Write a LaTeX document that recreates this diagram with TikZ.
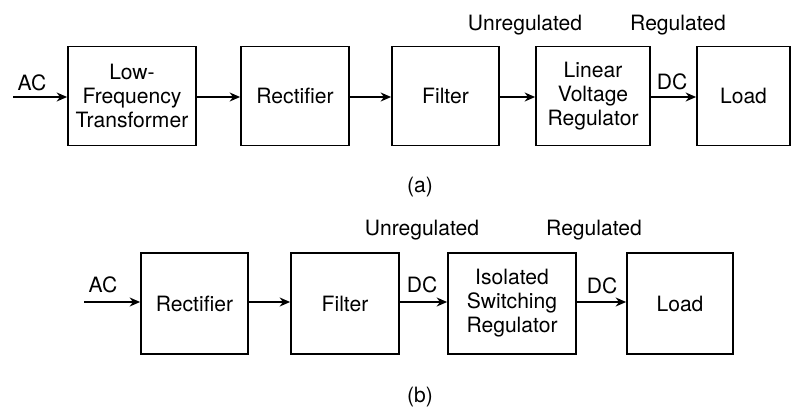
\documentclass[tikz,border=0pt]{standalone}
\usepackage{fontspec}
\setmainfont{TeX Gyre Heros}
\usetikzlibrary{arrows.meta}
\tikzset{
	blk/.style={draw, line width=1pt, align=center, inner sep=0pt, font=\fontsize{12}{13.6}\selectfont},
	lbl/.style={inner sep=0pt, font=\fontsize{12}{13.6}\selectfont},
	flow/.style={line width=0.9pt, -{Stealth[length=2.1mm,width=1.8mm]}}
}

\begin{document}
\begin{tikzpicture}
			%%%%% START %%%%%
			\useasboundingbox (0, 0) rectangle (15.86, -8.14);
			
			% (a) linear supply
			\coordinate (ina) at (0.26, -1.94);
			\node[blk, minimum width=2.56cm, minimum height=1.98cm] (xfmr) at (2.64, -1.92) {Low-\\Frequency\\Transformer};
			\node[blk, minimum width=2.16cm, minimum height=1.98cm] (recta) at (5.90, -1.92) {Rectifier};
			\node[blk, minimum width=2.14cm, minimum height=1.98cm] (filta) at (8.91, -1.92) {Filter};
			\node[blk, minimum width=2.28cm, minimum height=1.98cm] (linreg) at (11.86, -1.92) {Linear\\Voltage\\Regulator};
			\node[blk, minimum width=1.86cm, minimum height=1.98cm] (loada) at (14.87, -1.92) {Load};
			
			\draw[flow] (ina) -- (xfmr.west |- ina);
			\draw[flow] (xfmr.east |- ina) -- (recta.west |- ina);
			\draw[flow] (recta.east |- ina) -- (filta.west |- ina);
			\draw[flow] (filta.east |- ina) -- (linreg.west |- ina);
			\draw[flow] (linreg.east |- ina) -- (loada.west |- ina);
			
			\node[lbl] (aca) at (0.64, -1.66) {AC};
			\node[lbl] (dca) at (13.44, -1.64) {DC};
			\node[lbl] (unrega) at (10.50, -0.50) {Unregulated};
			\node[lbl] (rega) at (13.56, -0.50) {Regulated};
			\node[lbl] (capa) at (8.40, -3.74) {(a)};
			
			% (b) switching supply
			\coordinate (inb) at (1.68, -6.04);
			\node[blk, minimum width=2.14cm, minimum height=2.02cm] (rectb) at (3.89, -6.07) {Rectifier};
			\node[blk, minimum width=2.16cm, minimum height=2.02cm] (filtb) at (6.90, -6.07) {Filter};
			\node[blk, minimum width=2.56cm, minimum height=2.02cm] (swreg) at (10.24, -6.07) {Isolated\\Switching\\Regulator};
			\node[blk, minimum width=2.12cm, minimum height=2.02cm] (loadb) at (13.60, -6.07) {Load};
			
			\draw[flow] (inb) -- (rectb.west |- inb);
			\draw[flow] (rectb.east |- inb) -- (filtb.west |- inb);
			\draw[flow] (filtb.east |- inb) -- (swreg.west |- inb);
			\draw[flow] (swreg.east |- inb) -- (loadb.west |- inb);
			
			\node[lbl] (acb) at (2.06, -5.70) {AC};
			\node[lbl] (dcb) at (8.44, -5.70) {DC};
			\node[lbl] (dcc) at (12.04, -5.72) {DC};
			\node[lbl] (unregb) at (8.44, -4.60) {Unregulated};
			\node[lbl] (regb) at (11.88, -4.60) {Regulated};
			\node[lbl] (capb) at (8.40, -7.94) {(b)};
			
			%%%%% END %%%%%
\end{tikzpicture}
\end{document}
